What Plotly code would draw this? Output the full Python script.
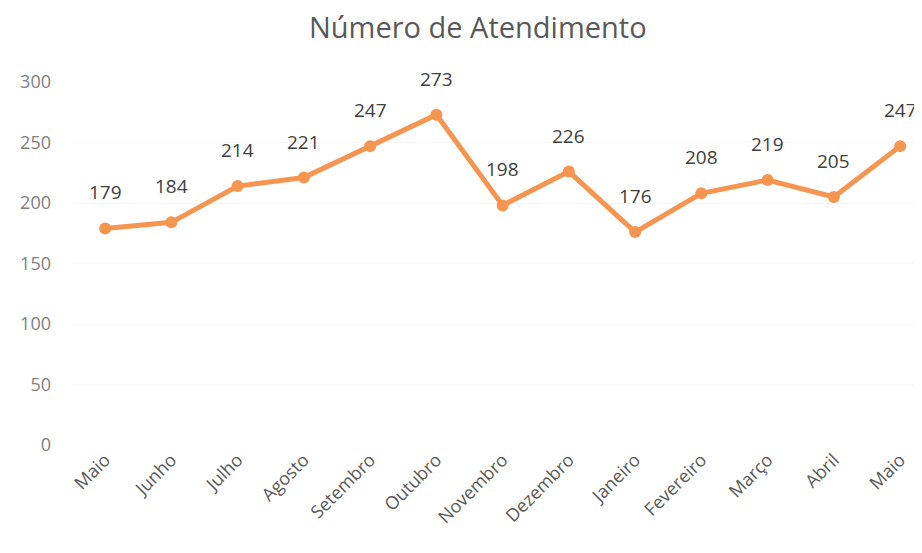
import plotly.graph_objects as go

months = ["Maio", "Junho", "Julho", "Agosto", "Setembro", "Outubro", "Novembro",
          "Dezembro", "Janeiro", "Fevereiro", "Março", "Abril", "Maio"]
atendimentos = [179, 184, 214, 221, 247, 273, 198, 226, 176, 208, 219, 205, 247]
y_ticks = [0, 50, 100, 150, 200, 250, 300]

x_pos = list(range(len(months)))

fig = go.Figure()
fig.add_trace(go.Scatter(
    x=x_pos, y=atendimentos,
    mode="lines+markers",
    line=dict(color="#f6954f", width=5),
    marker=dict(color="#f6954f", size=12),
    showlegend=False,
))

for xi, v in zip(x_pos, atendimentos):
    fig.add_annotation(x=xi, y=v, text=str(v), showarrow=False, yshift=36,
                       font=dict(family="Open Sans, sans-serif", size=19, color="#404040"))

fig.update_layout(
    width=914, height=545,
    paper_bgcolor="white", plot_bgcolor="white",
    margin=dict(l=64, r=0, t=74, b=108),
    title=dict(text="Número de Atendimento", x=0.514, xanchor="center", y=0.963, yanchor="middle",
               font=dict(family="Open Sans, sans-serif", size=29, color="#595959")),
    xaxis=dict(
        tickmode="array", tickvals=x_pos, ticktext=months,
        range=[-0.5, 12.33], tickangle=-45, automargin=False,
        tickfont=dict(family="Open Sans, sans-serif", size=18, color="#595959"),
        showgrid=False, zeroline=False, showline=False, ticks="",
    ),
    yaxis=dict(
        tickmode="array", tickvals=y_ticks, range=[0, 300], automargin=False,
        tickfont=dict(family="Open Sans, sans-serif", size=18, color="#808080"),
        showgrid=True, gridcolor="#f6f6f6", gridwidth=1,
        zeroline=False, showline=False, ticks="", ticklabelstandoff=20,
    ),
)

fig.write_html("out.html")
